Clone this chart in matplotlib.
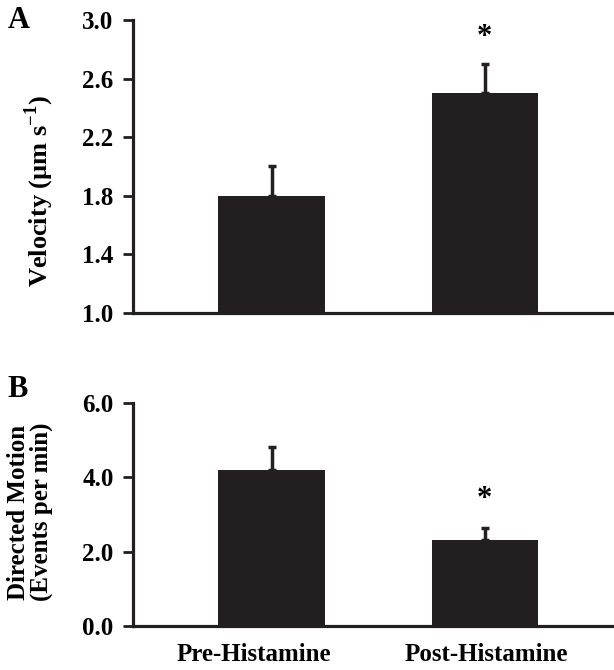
import matplotlib
matplotlib.use("Agg")
import matplotlib.pyplot as plt
import matplotlib.transforms as mtransforms

categories = ["Pre-Histamine", "Post-Histamine"]
velocity = [1.8, 2.5]
velocity_err = [0.2, 0.2]
motion = [4.2, 2.3]
motion_err = [0.6, 0.33]
vel_ticks = [1.0, 1.4, 1.8, 2.2, 2.6, 3.0]
mot_ticks = [0.0, 2.0, 4.0, 6.0]

plt.rcParams['font.family'] = ['Liberation Serif', 'DejaVu Serif']
plt.rcParams['font.weight'] = 'bold'
plt.rcParams['mathtext.fontset'] = 'custom'
plt.rcParams['mathtext.rm'] = 'Liberation Serif:bold'
plt.rcParams['mathtext.bf'] = 'Liberation Serif:bold'

fig = plt.figure(figsize=(6.14, 6.70), dpi=100)
ax1 = fig.add_axes([0.2166, 0.533, 0.7814, 0.437])
ax2 = fig.add_axes([0.2166, 0.0657, 0.7814, 0.333])

col = '#231f20'
x = [0, 1]

def style(ax, ticks, fmt):
    for s in ['top', 'right']:
        ax.spines[s].set_visible(False)
    for s in ['left', 'bottom']:
        ax.spines[s].set_linewidth(2.3)
        ax.spines[s].set_color(col)
    ax.set_yticks(ticks)
    ax.set_yticklabels([fmt.format(t) for t in ticks], fontsize=18, fontweight='bold')
    ax.tick_params(axis='y', direction='out', length=7, width=2, color=col, pad=7)
    ax.set_xlim(-0.65, 1.6)

# Panel A
ax1.bar(x, [v - 1.0 for v in velocity], bottom=1.0, width=0.5, color=col, zorder=2)
ax1.errorbar(x, velocity, yerr=[[0, 0], velocity_err], fmt='none', ecolor=col,
             elinewidth=2.5, capsize=3, capthick=2.5, zorder=1)
ax1.set_ylim(1.0, 3.0)
style(ax1, vel_ticks, "{:.1f}")
ax1.set_xticks([])
ax1.set_ylabel("Velocity (µm s$^{-1}$)", fontsize=19, fontweight='bold')
ax1.yaxis.set_label_coords(-0.160, 0.416)
ax1.text(1, 2.83, "*", ha='center', va='baseline', fontsize=22, fontweight='bold')
fig.text(0.012, 0.958, "A", fontsize=22, fontweight='bold')

# Panel B
ax2.bar(x, motion, width=0.5, color=col, zorder=2)
ax2.errorbar(x, motion, yerr=[[0, 0], motion_err], fmt='none', ecolor=col,
             elinewidth=2.5, capsize=3, capthick=2.5, zorder=1)
ax2.set_ylim(0.0, 6.0)
style(ax2, mot_ticks, "{:.1f}")
ax2.set_xticks(x)
ax2.set_xticklabels(categories, fontsize=18, fontweight='bold')
ax2.tick_params(axis='x', length=0, pad=12)
offs = [-18, 1]
for lab, dx in zip(ax2.get_xticklabels(), offs):
    lab.set_transform(lab.get_transform() +
                      mtransforms.ScaledTranslation(dx / 100, 0, fig.dpi_scale_trans))
ax2.set_ylabel("Directed Motion\n(Events per min)", fontsize=18, fontweight='bold',
               linespacing=0.95)
ax2.yaxis.set_label_coords(-0.167, 0.511)
ax2.text(1, 3.2, "*", ha='center', va='baseline', fontsize=22, fontweight='bold')
fig.text(0.012, 0.4075, "B", fontsize=22, fontweight='bold')

fig.savefig("out.png", dpi=100)
